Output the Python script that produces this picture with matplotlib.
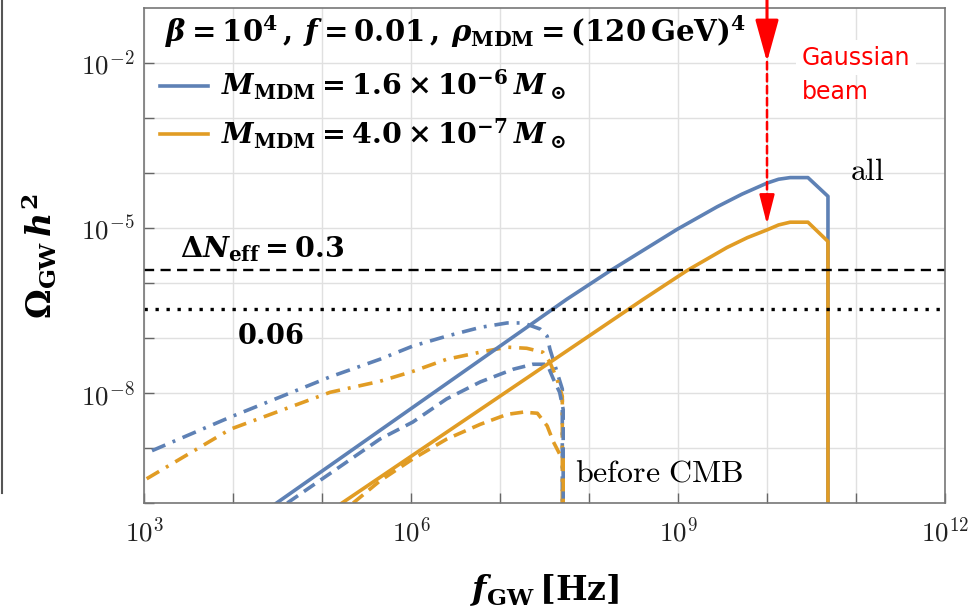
import numpy as np
import matplotlib.pyplot as plt
from matplotlib.lines import Line2D
from matplotlib.ticker import FixedLocator, NullLocator, FuncFormatter

# bold serif for labels / annotations, computer modern for the tick labels
plt.rcParams['mathtext.fontset'] = 'cm'
plt.rcParams['mathtext.rm'] = 'DejaVu Serif:bold'
plt.rcParams['mathtext.it'] = 'DejaVu Serif:italic:bold'
plt.rcParams['mathtext.bf'] = 'DejaVu Serif:bold'

# ---- data (log10 f [Hz], log10 Omega h^2) ----
# "all" curves (solid)
lf_all_16 = [4.49, 7.75, 8.24, 8.99, 9.44, 9.72, 10.0, 10.13, 10.26, 10.46, 10.685, 10.685]
lo_all_16 = [-10.0, -6.30, -5.78, -5.03, -4.62, -4.39, -4.19, -4.12, -4.09, -4.09, -4.43, -10.0]
lf_all_40 = [5.225, 8.61, 9.10, 9.55, 9.78, 10.0, 10.13, 10.26, 10.46, 10.685, 10.685]
lo_all_40 = [-10.0, -6.30, -5.78, -5.36, -5.18, -5.04, -4.95, -4.90, -4.90, -5.25, -10.0]

# "before CMB" curves (dashed)
lf_cmb_16 = [4.61, 5.65, 6.02, 6.40, 6.78, 7.15, 7.37, 7.53, 7.60, 7.67, 7.71, 7.71]
lo_cmb_16 = [-10.0, -8.84, -8.53, -8.11, -7.80, -7.57, -7.48, -7.48, -7.75, -7.99, -8.30, -10.0]
lf_cmb_40 = [5.35, 5.65, 6.02, 6.40, 6.78, 7.08, 7.26, 7.42, 7.53, 7.60, 7.67, 7.71, 7.71]
lo_cmb_40 = [-10.0, -9.60, -9.20, -8.84, -8.57, -8.39, -8.35, -8.37, -8.60, -8.89, -9.11, -9.13, -10.0]

# dash-dot curves
lf_dd_16 = [3.09, 3.97, 5.09, 5.65, 6.02, 6.40, 6.78, 7.08, 7.26, 7.45, 7.53, 7.56, 7.64, 7.70, 7.70]
lo_dd_16 = [-9.05, -8.44, -7.71, -7.39, -7.15, -6.97, -6.81, -6.73, -6.73, -6.84, -6.97, -7.20, -7.62, -7.93, -10.0]
lf_dd_40 = [3.03, 3.97, 5.09, 5.65, 6.02, 6.40, 6.78, 7.08, 7.30, 7.48, 7.56, 7.64, 7.70, 7.70]
lo_dd_40 = [-9.56, -8.66, -7.99, -7.79, -7.61, -7.39, -7.26, -7.17, -7.19, -7.26, -7.44, -7.75, -8.06, -10.0]

# Delta N_eff bounds (0.3 and 0.06)
neff_bounds = [10**-5.774, 10**-6.47]

x_decades = np.arange(3, 13)
x_labeled = [3, 6, 9, 12]
y_decades = np.arange(-10, -1)
y_labeled = [-2, -5, -8]

blue = '#5E81B5'
orange = '#E19C24'

fig = plt.figure(figsize=(9.7, 6.08), dpi=100)
ax = fig.add_axes([144/970, 1-503/608, 801/970, 495/608])
ax.set_xscale('log')
ax.set_yscale('log')
ax.set_xlim(1e3, 1e12)
ax.set_ylim(1e-10, 10**-1.01)

def plot_curve(lf, lo, color, ls, label=None):
    ax.plot(10**np.array(lf), 10**np.array(lo), color=color, lw=2.6, ls=ls, label=label)

dash = (0, (3.6, 2.0))
dashdot = (0, (4.0, 2.2, 0.8, 2.2))
plot_curve(lf_dd_16, lo_dd_16, blue, dashdot)
plot_curve(lf_dd_40, lo_dd_40, orange, dashdot)
plot_curve(lf_cmb_16, lo_cmb_16, blue, dash)
plot_curve(lf_cmb_40, lo_cmb_40, orange, dash)
plot_curve(lf_all_16, lo_all_16, blue, '-',
           r'$M_{\rm MDM} = 1.6\times 10^{-6}\, M_\odot$')
plot_curve(lf_all_40, lo_all_40, orange, '-',
           r'$M_{\rm MDM} = 4.0\times 10^{-7}\, M_\odot$')

ax.axhline(neff_bounds[0], color='k', lw=1.7, ls=(0, (4.3, 2.7)))
ax.axhline(neff_bounds[1], color='k', lw=2.4, ls=(0, (1, 2.3)))

# ticks / grid
ax.xaxis.set_major_locator(FixedLocator(10.0**x_decades))
ax.yaxis.set_major_locator(FixedLocator(10.0**y_decades))
ax.xaxis.set_minor_locator(NullLocator())
ax.yaxis.set_minor_locator(NullLocator())

def fmt(labeled):
    def f(v, p):
        e = int(round(np.log10(v)))
        return r'$10^{%d}$' % e if e in labeled else ''
    return FuncFormatter(f)

ax.xaxis.set_major_formatter(fmt(x_labeled))
ax.yaxis.set_major_formatter(fmt(y_labeled))
ax.tick_params(direction='in', length=7, width=1, color='#666666',
               labelsize=19.5, labelcolor='#222222')
ax.tick_params(axis='x', pad=10)
ax.tick_params(axis='y', pad=7)
ax.grid(True, color='#e0e0e0', lw=1)
ax.set_axisbelow(True)
for s in ax.spines.values():
    s.set_color('#777777')
    s.set_linewidth(1.2)

# labels
ax.set_xlabel(r'$f_{\rm GW}\,[{\rm Hz}]$', fontsize=24, math_fontfamily='custom', va='center')
ax.xaxis.set_label_coords(0.5, (503-590)/495)
ax.set_ylabel(r'$\Omega_{\rm GW}\, h^2$', fontsize=24, math_fontfamily='custom', va='center')
ax.yaxis.set_label_coords((39-144)/801, 0.5)

ax.text(0.026, 0.931, r'$\beta = 10^4\,,\, f = 0.01\,,\, \rho_{\rm MDM} = (120\,{\rm GeV})^4$',
        transform=ax.transAxes, fontsize=21, math_fontfamily='custom', va='baseline')

leg = ax.legend(loc='center left', bbox_to_anchor=(0.02, 0.795), frameon=False,
                handlelength=1.7, handletextpad=0.45, borderpad=0, borderaxespad=0,
                labelspacing=0.5, prop={'size': 20.5, 'math_fontfamily': 'custom'})

ax.text(10**3.40, 10**-5.54, r'$\Delta N_{\rm eff} = 0.3$', fontsize=20.5,
        math_fontfamily='custom', va='baseline')
ax.text(10**4.045, 10**-7.12, r'$0.06$', fontsize=19.5, math_fontfamily='custom', va='baseline')
ax.text(10**10.93, 10**-4.125, r'$\mathrm{all}$', fontsize=23, va='baseline')
ax.text(10**7.84, 10**-9.61, r'$\mathrm{before\ CMB}$', fontsize=23, va='baseline')

# Gaussian beam arrow
ax.text(10**10.39, 10**-2.04, 'Gaussian', color='red', fontsize=17, va='baseline',
        bbox=dict(facecolor='white', edgecolor='none', pad=4))
ax.text(10**10.39, 10**-2.66, 'beam', color='red', fontsize=17, va='baseline')
ax.annotate('', xy=(1e10, 10**-1.99), xytext=(1e10, 10**-0.86), annotation_clip=False,
            arrowprops=dict(arrowstyle='-|>,head_length=1.3,head_width=0.36', color='red',
                            lw=2.2, shrinkA=0, shrinkB=0, mutation_scale=20))
ax.annotate('', xy=(1e10, 10**-4.5), xytext=(1e10, 10**-1.99), annotation_clip=False,
            arrowprops=dict(arrowstyle='-', color='red', lw=1.8, ls=(0, (3, 1.8)),
                            shrinkA=0, shrinkB=0))
ax.annotate('', xy=(1e10, 10**-4.94), xytext=(1e10, 10**-4.45), annotation_clip=False,
            arrowprops=dict(arrowstyle='-|>,head_length=0.9,head_width=0.23', color='red',
                            lw=1.8, shrinkA=0, shrinkB=0, mutation_scale=20))

# left border line from the screenshot
fig.add_artist(Line2D([2/970, 2/970], [1, 1-493/608], color='#555555', lw=1.5))

fig.savefig('out.png', dpi=100)
